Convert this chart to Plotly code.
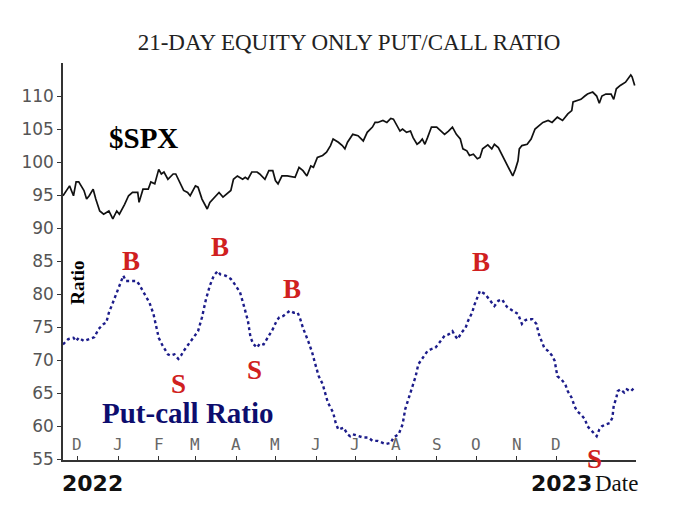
import plotly.graph_objects as go

# ---------------- data ----------------
spx_dates = [
    "2021-11-20", "2021-11-23", "2021-11-25", "2021-11-28", "2021-11-30", "2021-12-02", "2021-12-06",
    "2021-12-08", "2021-12-10", "2021-12-13", "2021-12-15", "2021-12-18", "2021-12-21", "2021-12-25",
    "2021-12-28", "2021-12-31", "2022-01-02", "2022-01-06", "2022-01-09", "2022-01-12", "2022-01-16",
    "2022-01-17", "2022-01-20", "2022-01-24", "2022-01-26", "2022-01-29", "2022-02-01", "2022-02-03",
    "2022-02-05", "2022-02-08", "2022-02-12", "2022-02-14", "2022-02-17", "2022-02-20", "2022-02-23",
    "2022-02-25", "2022-03-01", "2022-03-03", "2022-03-06", "2022-03-10", "2022-03-12", "2022-03-16",
    "2022-03-19", "2022-03-22", "2022-03-25", "2022-03-28", "2022-03-30", "2022-04-02", "2022-04-06",
    "2022-04-08", "2022-04-10", "2022-04-13", "2022-04-17", "2022-04-19", "2022-04-23", "2022-04-26",
    "2022-04-29", "2022-05-01", "2022-05-03", "2022-05-06", "2022-05-10", "2022-05-14", "2022-05-16",
    "2022-05-19", "2022-05-22", "2022-05-25", "2022-05-28", "2022-05-30", "2022-06-02", "2022-06-06",
    "2022-06-09", "2022-06-12", "2022-06-14", "2022-06-18", "2022-06-21", "2022-06-23", "2022-06-25",
    "2022-06-29", "2022-07-03", "2022-07-07", "2022-07-10", "2022-07-14", "2022-07-16", "2022-07-18",
    "2022-07-22", "2022-07-25", "2022-07-28", "2022-07-30", "2022-08-02", "2022-08-04", "2022-08-06",
    "2022-08-09", "2022-08-12", "2022-08-14", "2022-08-17", "2022-08-19", "2022-08-21", "2022-08-23",
    "2022-08-25", "2022-08-28", "2022-09-01", "2022-09-04", "2022-09-07", "2022-09-10", "2022-09-13",
    "2022-09-16", "2022-09-19", "2022-09-21", "2022-09-24", "2022-09-26", "2022-09-29", "2022-10-02",
    "2022-10-04", "2022-10-06", "2022-10-10", "2022-10-13", "2022-10-15", "2022-10-18", "2022-10-21",
    "2022-10-23", "2022-10-25", "2022-10-29", "2022-10-31", "2022-11-02", "2022-11-03", "2022-11-05",
    "2022-11-09", "2022-11-12", "2022-11-15", "2022-11-18", "2022-11-21", "2022-11-25", "2022-11-28",
    "2022-12-02", "2022-12-06", "2022-12-10", "2022-12-13", "2022-12-14", "2022-12-17", "2022-12-20",
    "2022-12-23", "2022-12-25", "2022-12-29", "2023-01-01", "2023-01-03", "2023-01-05", "2023-01-08",
    "2023-01-12", "2023-01-14", "2023-01-16", "2023-01-19", "2023-01-23", "2023-01-27", "2023-01-28",
    "2023-01-30",
]
spx_values = [
    94.9, 95.9, 96.4, 94.9, 97.0, 97.0, 95.7,
    94.4, 94.9, 95.9, 94.4, 92.6, 92.1, 92.6,
    91.4, 92.6, 92.1, 93.6, 94.9, 95.4, 95.4,
    93.9, 95.9, 95.9, 97.0, 96.7, 98.9, 98.2,
    98.5, 97.4, 98.2, 98.2, 97.0, 95.7, 95.4,
    94.9, 96.4, 96.2, 94.4, 92.9, 93.9, 94.7,
    95.4, 94.7, 95.2, 95.7, 97.4, 97.9, 97.4,
    97.7, 97.4, 98.5, 98.5, 98.2, 97.4, 98.7,
    98.7, 97.2, 96.7, 97.9, 97.9, 97.7, 97.7,
    99.2, 98.7, 97.9, 99.4, 99.2, 100.7, 101.0,
    101.5, 102.5, 103.5, 103.0, 102.5, 102.0, 103.0,
    104.2, 104.0, 103.2, 104.5, 105.3, 106.0, 106.0,
    106.3, 106.0, 106.6, 106.5, 105.3, 104.7, 105.0,
    104.5, 104.7, 103.7, 102.7, 103.0, 103.5, 102.7,
    103.7, 105.3, 105.3, 104.8, 104.2, 104.7, 105.3,
    104.2, 103.5, 102.0, 101.7, 101.0, 101.2, 100.5,
    100.7, 102.0, 102.6, 102.0, 102.7, 102.2, 101.0,
    100.2, 99.4, 97.9, 98.9, 100.2, 102.0, 102.5,
    102.7, 103.5, 105.0, 105.5, 106.0, 106.3, 106.0,
    106.8, 106.3, 107.3, 107.8, 109.1, 109.3, 109.5,
    110.0, 110.3, 110.6, 110.0, 108.9, 110.0, 110.3,
    110.3, 109.5, 111.1, 111.6, 112.1, 113.2, 112.9,
    111.6,
]

ratio_dates = [
    "2021-11-20", "2021-11-24", "2021-11-28", "2021-11-30", "2021-12-02", "2021-12-06", "2021-12-10",
    "2021-12-14", "2021-12-17", "2021-12-21", "2021-12-23", "2021-12-25", "2021-12-28", "2021-12-31",
    "2022-01-02", "2022-01-05", "2022-01-07", "2022-01-09", "2022-01-12", "2022-01-15", "2022-01-17",
    "2022-01-20", "2022-01-22", "2022-01-25", "2022-01-28", "2022-01-30", "2022-02-01", "2022-02-04",
    "2022-02-08", "2022-02-10", "2022-02-13", "2022-02-16", "2022-02-18", "2022-02-20", "2022-02-23",
    "2022-02-27", "2022-03-03", "2022-03-06", "2022-03-09", "2022-03-12", "2022-03-15", "2022-03-18",
    "2022-03-20", "2022-03-24", "2022-03-28", "2022-03-30", "2022-04-02", "2022-04-04", "2022-04-07",
    "2022-04-10", "2022-04-12", "2022-04-14", "2022-04-17", "2022-04-19", "2022-04-22", "2022-04-25",
    "2022-04-27", "2022-04-29", "2022-05-02", "2022-05-04", "2022-05-07", "2022-05-10", "2022-05-12",
    "2022-05-15", "2022-05-18", "2022-05-20", "2022-05-22", "2022-05-26", "2022-05-29", "2022-05-31",
    "2022-06-03", "2022-06-06", "2022-06-08", "2022-06-10", "2022-06-14", "2022-06-16", "2022-06-18",
    "2022-06-22", "2022-06-25", "2022-06-27", "2022-06-29", "2022-07-03", "2022-07-07", "2022-07-11",
    "2022-07-14", "2022-07-18", "2022-07-22", "2022-07-24", "2022-07-28", "2022-07-30", "2022-08-03",
    "2022-08-06", "2022-08-08", "2022-08-12", "2022-08-16", "2022-08-18", "2022-08-21", "2022-08-23",
    "2022-08-25", "2022-08-28", "2022-08-31", "2022-09-02", "2022-09-05", "2022-09-07", "2022-09-10",
    "2022-09-13", "2022-09-15", "2022-09-17", "2022-09-20", "2022-09-23", "2022-09-25", "2022-09-28",
    "2022-09-30", "2022-10-03", "2022-10-04", "2022-10-08", "2022-10-10", "2022-10-13", "2022-10-15",
    "2022-10-18", "2022-10-21", "2022-10-23", "2022-10-25", "2022-10-29", "2022-10-31", "2022-11-02",
    "2022-11-05", "2022-11-07", "2022-11-09", "2022-11-13", "2022-11-16", "2022-11-18", "2022-11-20",
    "2022-11-22", "2022-11-25", "2022-11-28", "2022-11-30", "2022-12-01", "2022-12-02", "2022-12-05",
    "2022-12-08", "2022-12-10", "2022-12-13", "2022-12-15", "2022-12-17", "2022-12-20", "2022-12-23",
    "2022-12-25", "2022-12-28", "2022-12-30", "2023-01-01", "2023-01-03", "2023-01-05", "2023-01-08",
    "2023-01-11", "2023-01-13", "2023-01-14", "2023-01-16", "2023-01-17", "2023-01-19", "2023-01-22",
    "2023-01-24", "2023-01-27", "2023-01-30",
]
ratio_values = [
    72.4, 73.2, 73.4, 72.9, 73.4, 72.9, 73.2,
    73.5, 74.7, 75.5, 75.7, 77.2, 78.7, 80.3,
    81.5, 82.8, 82.0, 82.0, 82.0, 82.0, 81.5,
    80.5, 79.7, 78.7, 77.0, 75.2, 73.4, 72.2,
    70.9, 70.7, 70.9, 70.2, 70.7, 71.4, 72.2,
    73.2, 74.4, 76.5, 79.2, 81.3, 82.8, 83.5,
    83.0, 82.8, 82.3, 81.8, 81.0, 80.3, 78.2,
    76.0, 73.5, 72.5, 71.9, 72.5, 72.4, 73.4,
    73.9, 74.7, 76.0, 76.5, 76.7, 77.2, 77.5,
    77.2, 77.2, 76.2, 74.9, 72.9, 71.2, 69.7,
    67.6, 66.4, 64.8, 63.6, 62.1, 60.5, 59.5,
    59.8, 58.8, 58.5, 58.8, 58.5, 58.3, 58.3,
    57.8, 57.8, 57.5, 57.3, 57.5, 58.3, 58.8,
    60.3, 62.6, 65.1, 67.6, 69.4, 70.2, 70.9,
    71.4, 71.7, 71.9, 72.4, 73.2, 73.7, 73.9,
    74.4, 73.7, 73.2, 74.2, 74.9, 76.0, 77.2,
    78.5, 80.0, 80.5, 80.0, 79.5, 78.7, 78.2,
    79.0, 79.2, 78.5, 78.0, 77.5, 77.2, 77.0,
    75.5, 76.0, 76.2, 76.2, 75.5, 73.9, 72.9,
    71.9, 71.4, 70.7, 69.9, 68.6, 67.6, 67.1,
    66.4, 65.3, 64.3, 63.1, 62.3, 61.8, 61.1,
    60.0, 59.3, 58.8, 58.5, 59.5, 60.0, 60.3,
    60.5, 61.3, 63.1, 64.3, 65.3, 65.6, 65.1,
    65.6, 65.3, 65.9,
]

month_tick_dates = [
    "2021-12-01", "2022-01-01", "2022-02-01", "2022-03-01", "2022-04-01", "2022-05-01", "2022-06-01",
    "2022-07-01", "2022-08-01", "2022-09-01", "2022-10-01", "2022-11-01", "2022-12-01",
]
month_tick_labels = ["D", "J", "F", "M", "A", "M", "J", "J", "A", "S", "O", "N", "D"]
y_tick_values = [55, 60, 65, 70, 75, 80, 85, 90, 95, 100, 105, 110]

signal_labels = ["B", "B", "B", "B", "S", "S", "S", "S"]
signal_dates = ["2022-01-11", "2022-03-20", "2022-05-14", "2022-10-05",
                "2022-02-16", "2022-04-15", "2022-07-30", "2022-12-30"]
signal_levels = [85.0, 87.1, 80.8, 84.8, 66.4, 68.6, 52.3, 55.0]

# ---------------- figure ----------------
fig = go.Figure()

fig.add_trace(go.Scatter(
    x=spx_dates, y=spx_values, mode="lines",
    line=dict(color="#111111", width=1.7),
    showlegend=False, hoverinfo="skip",
))
fig.add_trace(go.Scatter(
    x=ratio_dates, y=ratio_values, mode="lines",
    line=dict(color="#1c1c8a", width=2.4, dash="dot"),
    showlegend=False, hoverinfo="skip",
))

annotations = []
# month letters sit just above the date axis, centred on each month tick
for d, lab in zip(month_tick_dates, month_tick_labels):
    annotations.append(dict(
        x=d, y=0.038, xref="x", yref="paper", text=lab, showarrow=False,
        font=dict(family="DejaVu Sans Mono", size=16, color="#666666"),
        xanchor="center", yanchor="middle",
    ))

for lab, d, v in zip(signal_labels, signal_dates, signal_levels):
    annotations.append(dict(
        x=d, y=v, xref="x", yref="y", text="<b>" + lab + "</b>", showarrow=False,
        font=dict(family="Liberation Serif", size=27, color="#d02020"),
        xanchor="center", yanchor="middle",
    ))

def paper_text(text, x, y, size, color, family="Liberation Serif", angle=0, xanchor="center"):
    return dict(text=text, x=x, y=y, xref="paper", yref="paper", showarrow=False,
                font=dict(family=family, size=size, color=color),
                xanchor=xanchor, yanchor="middle", textangle=angle)

annotations += [
    paper_text("<b>$SPX</b>", 0.141, 0.811, 29, "#000000"),
    paper_text("<b>Ratio</b>", 0.026, 0.446, 19, "#000000", angle=-90),
    paper_text("<b>Put-call Ratio</b>", 0.218, 0.118, 29, "#0d0d6e"),
    paper_text("<b>2022</b>", -0.005, -0.058, 22, "#111111", family="DejaVu Sans", xanchor="left"),
    paper_text("<b>2023</b>", 0.814, -0.058, 22, "#111111", family="DejaVu Sans", xanchor="left"),
    paper_text("Date", 0.925, -0.06, 23, "#111111", xanchor="left"),
]

# page has an 8px body margin, so the figure is 8px smaller than the window
fig.update_layout(
    width=692, height=516,
    margin=dict(l=55, r=64, t=55, b=64),
    paper_bgcolor="white", plot_bgcolor="white",
    title=dict(text="21-DAY EQUITY ONLY PUT/CALL RATIO", x=341 / 692, xanchor="center",
               y=1 - 34 / 516, yanchor="middle",
               font=dict(family="Liberation Serif", size=23, color="#222222")),
    annotations=annotations,
)

fig.update_xaxes(
    type="date", range=["2021-11-20", "2023-01-31"], automargin=False,
    tickmode="array", tickvals=month_tick_dates, ticktext=month_tick_labels,
    showticklabels=False,
    ticks="inside", ticklen=4, tickcolor="#333333",
    showline=True, linecolor="#333333", linewidth=1.5,
    showgrid=False, zeroline=False,
)
fig.update_yaxes(
    range=[54.9, 115], automargin=False,
    tickmode="array", tickvals=y_tick_values,
    ticks="outside", ticklen=4, tickcolor="#333333",
    tickfont=dict(family="DejaVu Sans", size=17, color="#555555"),
    showline=True, linecolor="#333333", linewidth=1.5,
    showgrid=False, zeroline=False,
)

fig.write_html("out.html")
